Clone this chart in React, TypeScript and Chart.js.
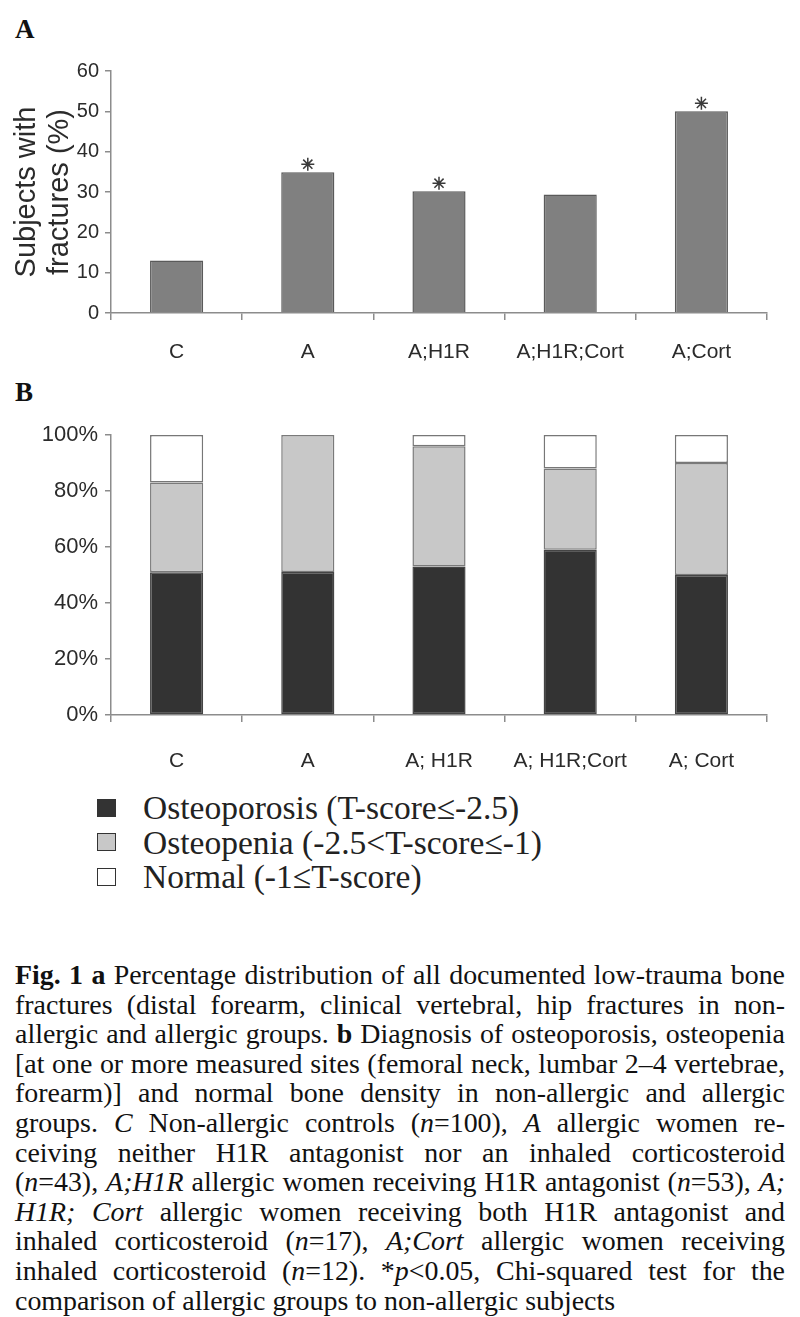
import React, { useEffect, useRef } from "react";
import { Chart, registerables } from "chart.js";

Chart.register(...registerables);

// ---------- Panel A data ----------
const categoriesA = ["C", "A", "A;H1R", "A;H1R;Cort", "A;Cort"];
const fracturePct = [13, 34.9, 30.2, 29.4, 50];
const significant = [false, true, true, false, true];
const yMaxA = 60;
const yStepA = 10;

// ---------- Panel B data ----------
const categoriesB = ["C", "A", "A; H1R", "A; H1R;Cort", "A; Cort"];
const osteoporosis = [51, 51.1, 53, 59, 50];
const osteopenia = [32, 48.9, 43, 29, 40];
const normal = [17, 0, 4, 12, 10];
const seriesLabels = [
  "Osteoporosis (T-score≤-2.5)",
  "Osteopenia (-2.5<T-score≤-1)",
  "Normal (-1≤T-score)",
];
const seriesColors = ["#333333", "#c8c8c8", "#ffffff"];
const seriesBorders = ["#444444", "#7a7a7a", "#777777"];

const SANS = "'Liberation Sans', Arial, Helvetica, sans-serif";
const SERIF = "'Liberation Serif', 'Times New Roman', Times, serif";
const AXIS = "#8c8c8c";
const TXT = "#2b2b2b";

const starPlugin = {
  id: "sigStars",
  afterDatasetsDraw(chart: any) {
    const meta = chart.getDatasetMeta(0);
    const ctx = chart.ctx;
    meta.data.forEach((bar: any, i: number) => {
      if (!significant[i]) return;
      const { x, y } = bar.getProps(["x", "y"], true);
      const cx = x;
      const cy = y - 8;
      const r = 6.5;
      ctx.save();
      ctx.strokeStyle = "#3a3a3a";
      ctx.lineWidth = 1.5;
      ctx.beginPath();
      for (let k = 0; k < 4; k++) {
        const a = (k * Math.PI) / 4;
        ctx.moveTo(cx - r * Math.sin(a), cy - r * Math.cos(a));
        ctx.lineTo(cx + r * Math.sin(a), cy + r * Math.cos(a));
      }
      ctx.stroke();
      ctx.restore();
    });
  },
};

function ChartA() {
  const ref = useRef<HTMLCanvasElement>(null);
  useEffect(() => {
    const chart = new Chart(ref.current as HTMLCanvasElement, {
      type: "bar",
      data: {
        labels: categoriesA,
        datasets: [
          {
            data: fracturePct,
            backgroundColor: "#808080",
            borderColor: "#5a5a5a",
            borderWidth: 1.5,
            barPercentage: 0.405,
            categoryPercentage: 1,
          },
        ],
      },
      options: {
        responsive: false,
        animation: false,
        devicePixelRatio: 1,
        layout: { padding: { top: 71, right: 33, left: 0, bottom: 0 } },
        plugins: { legend: { display: false }, tooltip: { enabled: false } },
        scales: {
          x: {
            grid: { offset: true, drawOnChartArea: false, drawTicks: true, tickLength: 7, color: AXIS, lineWidth: 1.5 },
            border: { color: AXIS, width: 1.5 },
            ticks: { color: TXT, font: { family: SANS, size: 21 }, padding: 20, maxRotation: 0, autoSkip: false },
            afterFit: (s: any) => { s.height = 67; },
          },
          y: {
            min: 0,
            max: yMaxA,
            grid: { drawOnChartArea: false, drawTicks: true, tickLength: 6, color: AXIS, lineWidth: 1.5 },
            border: { color: AXIS, width: 1.5 },
            ticks: { stepSize: yStepA, color: TXT, font: { family: SANS, size: 20 }, padding: 6 },
            title: {
              display: true,
              text: ["Subjects with", "fractures (%)"],
              color: TXT,
              font: { family: SANS, size: 29, lineHeight: 1.15 },
              padding: { top: 10, bottom: 0 },
            },
            afterFit: (s: any) => { s.width = 111; },
          },
        },
      },
      plugins: [starPlugin],
    });
    return () => chart.destroy();
  }, []);
  return <canvas ref={ref} width={800} height={380} style={{ position: "absolute", left: 0, top: 0 }} />;
}

function ChartB() {
  const ref = useRef<HTMLCanvasElement>(null);
  useEffect(() => {
    const series = [osteoporosis, osteopenia, normal];
    const chart = new Chart(ref.current as HTMLCanvasElement, {
      type: "bar",
      data: {
        labels: categoriesB,
        datasets: series.map((d, i) => ({
          label: seriesLabels[i],
          data: d,
          backgroundColor: seriesColors[i],
          borderColor: seriesBorders[i],
          borderWidth: 1.5,
          borderSkipped: false as any,
          barPercentage: 0.405,
          categoryPercentage: 1,
        })),
      },
      options: {
        responsive: false,
        animation: false,
        devicePixelRatio: 1,
        layout: { padding: { top: 45, right: 33, left: 0, bottom: 0 } },
        plugins: { legend: { display: false }, tooltip: { enabled: false } },
        scales: {
          x: {
            stacked: true,
            grid: { offset: true, drawOnChartArea: false, drawTicks: true, tickLength: 7, color: AXIS, lineWidth: 1.5 },
            border: { color: AXIS, width: 1.5 },
            ticks: { color: TXT, font: { family: SANS, size: 21 }, padding: 27, maxRotation: 0, autoSkip: false },
            afterFit: (s: any) => { s.height = 65; },
          },
          y: {
            stacked: true,
            min: 0,
            max: 100,
            grid: { drawOnChartArea: false, drawTicks: true, tickLength: 6, color: AXIS, lineWidth: 1.5 },
            border: { color: AXIS, width: 1.5 },
            ticks: {
              stepSize: 20,
              color: TXT,
              font: { family: SANS, size: 22 },
              padding: 7,
              callback: (v: any) => v + "%",
            },
            afterFit: (s: any) => { s.width = 111; },
          },
        },
      },
    });
    return () => chart.destroy();
  }, []);
  return <canvas ref={ref} width={800} height={390} style={{ position: "absolute", left: 0, top: 390 }} />;
}

type Seg = { t: string; b?: boolean; i?: boolean };
const captionLines: Seg[][] = [
  [{ t: "Fig. 1", b: true }, { t: " " }, { t: "a", b: true }, { t: " Percentage distribution of all documented low-trauma bone" }],
  [{ t: "fractures (distal forearm, clinical vertebral, hip fractures in non-" }],
  [{ t: "allergic and allergic groups. " }, { t: "b", b: true }, { t: " Diagnosis of osteoporosis, osteopenia" }],
  [{ t: "[at one or more measured sites (femoral neck, lumbar 2–4 vertebrae," }],
  [{ t: "forearm)] and normal bone density in non-allergic and allergic" }],
  [{ t: "groups. " }, { t: "C", i: true }, { t: " Non-allergic controls (" }, { t: "n", i: true }, { t: "=100), " }, { t: "A", i: true }, { t: " allergic women re-" }],
  [{ t: "ceiving neither H1R antagonist nor an inhaled corticosteroid" }],
  [{ t: "(" }, { t: "n", i: true }, { t: "=43), " }, { t: "A;H1R", i: true }, { t: " allergic women receiving H1R antagonist (" }, { t: "n", i: true }, { t: "=53), " }, { t: "A;", i: true }],
  [{ t: "H1R; Cort", i: true }, { t: " allergic women receiving both H1R antagonist and" }],
  [{ t: "inhaled corticosteroid (" }, { t: "n", i: true }, { t: "=17), " }, { t: "A;Cort", i: true }, { t: " allergic women receiving" }],
  [{ t: "inhaled corticosteroid (" }, { t: "n", i: true }, { t: "=12). *" }, { t: "p", i: true }, { t: "<0.05, Chi-squared test for the" }],
  [{ t: "comparison of allergic groups to non-allergic subjects" }],
];

export default function App() {
  return (
    <div style={{ position: "absolute", left: 0, top: 0, width: 800, height: 1317, background: "#fff", overflow: "hidden" }}>
      <div style={{ position: "absolute", left: 15, top: 14, fontFamily: SERIF, fontWeight: "bold", fontSize: 27, lineHeight: "30px", color: "#111" }}>A</div>
      <div style={{ position: "absolute", left: 15, top: 377, fontFamily: SERIF, fontWeight: "bold", fontSize: 27, lineHeight: "30px", color: "#111" }}>B</div>
      <ChartA />
      <ChartB />
      {seriesLabels.map((lab, i) => (
        <div key={lab} style={{ position: "absolute", left: 97, top: 790 + i * 34.5, height: 35, display: "flex", alignItems: "center" }}>
          <div style={{ width: 17, height: 16, background: seriesColors[i], border: "1.5px solid #333" }} />
          <div style={{ marginLeft: 27, fontFamily: SERIF, fontSize: 33.5, lineHeight: "35px", color: "#222", whiteSpace: "nowrap" }}>{lab}</div>
        </div>
      ))}
      <div style={{ position: "absolute", left: 15, top: 960, width: 770, fontFamily: SERIF, fontSize: 27.9, lineHeight: "29.6px", color: "#111" }}>
        {captionLines.map((segs, li) => (
          <div key={li} style={{ textAlign: "justify", textAlignLast: li === captionLines.length - 1 ? "left" : "justify", whiteSpace: "nowrap" as any }}>
            {segs.map((s, si) => (
              <span key={si} style={{ fontWeight: s.b ? "bold" : "normal", fontStyle: s.i ? "italic" : "normal" }}>{s.t}</span>
            ))}
          </div>
        ))}
      </div>
    </div>
  );
}
